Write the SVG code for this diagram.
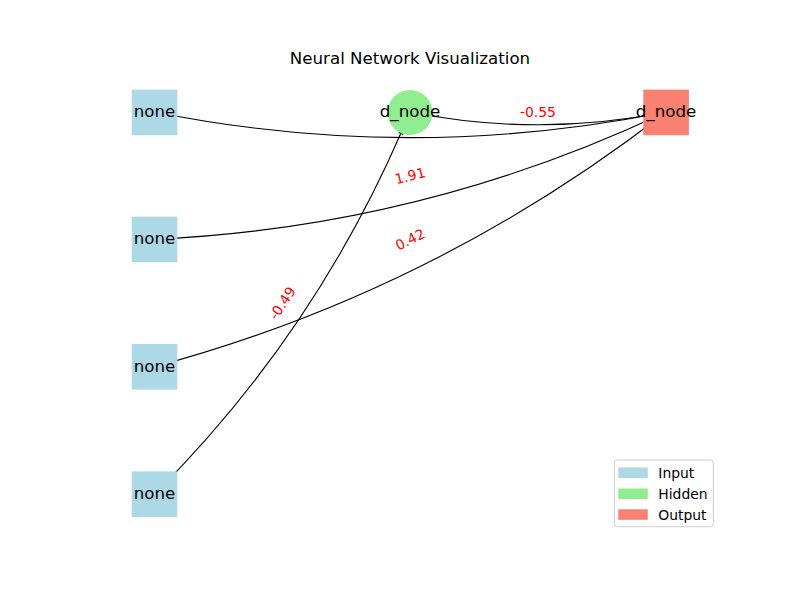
<svg xmlns="http://www.w3.org/2000/svg" width="800" height="600" viewBox="0 0 800 600">
  <defs>
    <style>
      .edge { fill: none; stroke: #000000; stroke-width: 1.1; }
      .inp { fill: #add8e6; }
      .hid { fill: #90ee90; }
      .out { fill: #fa8072; }
      .nlabel { font-family: "DejaVu Sans", sans-serif; font-size: 16.67px; fill: #000000; text-anchor: middle; }
      .elabel { font-family: "DejaVu Sans", sans-serif; font-size: 13.9px; fill: #ff0000; text-anchor: middle; dominant-baseline: central; }
      .title { font-family: "DejaVu Sans", sans-serif; font-size: 16.67px; fill: #000000; text-anchor: middle; }
      .leg { font-family: "DejaVu Sans", sans-serif; font-size: 13.9px; fill: #000000; }
    </style>
    <marker id="arrow" markerUnits="userSpaceOnUse" markerWidth="8" markerHeight="8" refX="0" refY="0" viewBox="-5 -4 6 8" orient="auto">
      <path d="M-4,-2 L0,0 L-4,2" fill="none" stroke="#000000" stroke-width="1"/>
    </marker>
  </defs>
  <rect x="0" y="0" width="800" height="600" fill="#ffffff"/>

  <text class="title" x="410" y="64">Neural Network Visualization</text>

  <g id="connectors">
    <path class="edge" d="M154.5,112 Q410,163.2 666,112"/>
    <path class="edge" d="M154.5,239.4 Q422.7,227 666,112"/>
    <path class="edge" d="M154.5,366.8 Q435.5,290.9 666,112"/>
    <path class="edge" d="M154.5,494.2 Q313.1,335.9 402.1,130.5" marker-end="url(#arrow)"/>
    <path class="edge" d="M410,112 Q538,137.6 666,112"/>
    <text class="elabel" x="538" y="111.5">-0.55</text>
    <text class="elabel" x="410" y="175.7" transform="rotate(-13.97 410 175.7)">1.91</text>
    <text class="elabel" x="410" y="239.4" transform="rotate(-26.46 410 239.4)">0.42</text>
    <text class="elabel" x="282.3" y="303.1" transform="rotate(-56.24 282.3 303.1)">-0.49</text>
  </g>

  <g id="input1">
    <rect class="inp" x="131.7" y="89.6" width="45.6" height="45.6"/>
    <text class="nlabel" x="154.5" y="117">none</text>
  </g>
  <g id="input2">
    <rect class="inp" x="131.7" y="216.6" width="45.6" height="45.6"/>
    <text class="nlabel" x="154.5" y="244.4">none</text>
  </g>
  <g id="input3">
    <rect class="inp" x="131.7" y="344" width="45.6" height="45.6"/>
    <text class="nlabel" x="154.5" y="371.8">none</text>
  </g>
  <g id="input4">
    <rect class="inp" x="131.7" y="471.4" width="45.6" height="45.6"/>
    <text class="nlabel" x="154.5" y="499.2">none</text>
  </g>
  <g id="hidden">
    <circle class="hid" cx="410" cy="112.5" r="22.5"/>
    <text class="nlabel" x="410" y="117">d_node</text>
  </g>
  <g id="output">
    <rect class="out" x="643.3" y="89.6" width="45.6" height="45.6"/>
    <text class="nlabel" x="666" y="117">d_node</text>
  </g>

  <g id="legend">
    <rect x="614.3" y="460" width="99" height="66.7" rx="3" ry="3" fill="#ffffff" fill-opacity="0.8" stroke="#cccccc" stroke-width="1"/>
    <rect class="inp" x="618.3" y="467.5" width="29.5" height="10.5"/>
    <rect class="hid" x="618.3" y="488.5" width="29.5" height="10.5"/>
    <rect class="out" x="618.3" y="509.3" width="29.5" height="10.5"/>
    <text class="leg" x="658.3" y="477.8">Input</text>
    <text class="leg" x="658.3" y="498.7">Hidden</text>
    <text class="leg" x="658.3" y="519.5">Output</text>
  </g>
</svg>
